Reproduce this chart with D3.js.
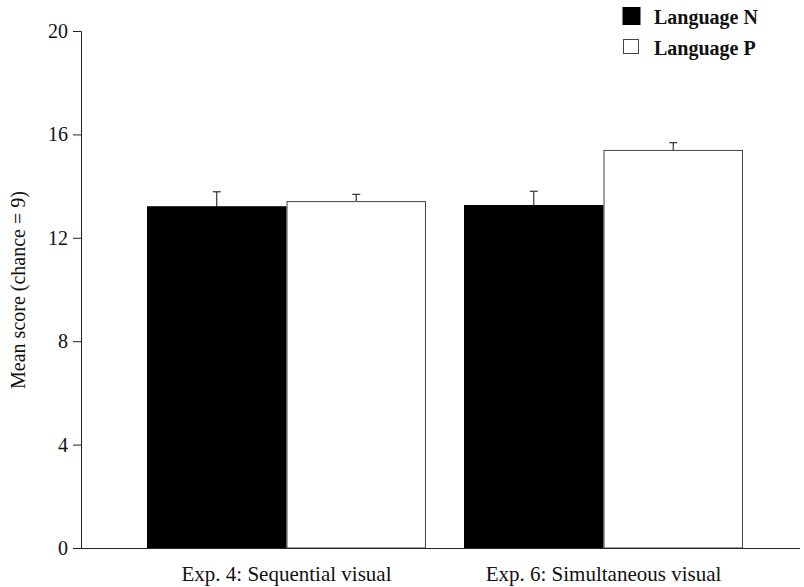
<!DOCTYPE html>
<html><head><meta charset="utf-8">
<script src="https://cdn.jsdelivr.net/npm/d3@7/dist/d3.min.js"></script>
<style>body{margin:0;background:#fff}svg{display:block}text{font-family:"Liberation Serif","Times New Roman",serif}</style>
</head><body><svg id="c" width="804" height="587"></svg>
<script>
const categories = ["Exp. 4: Sequential visual", "Exp. 6: Simultaneous visual"];
const series = ["Language N", "Language P"];
const meanN = [13.2, 13.25];
const meanP = [13.4, 15.38];
const errN = [0.58, 0.55];
const errP = [0.28, 0.3];
const yTicks = [0, 4, 8, 12, 16, 20];
const yLabel = "Mean score (chance = 9)";

const svg = d3.select("#c");
const y = d3.scaleLinear().domain([0, 20]).range([548, 31]);
const x = d3.scaleBand().domain(categories).range([128, 762]).paddingInner(0.12).paddingOuter(0.06);
const xs = d3.scaleBand().domain(series).range([0, x.bandwidth()]).padding(0);
const fills = {"Language N": "#000", "Language P": "#fff"};

const data = [];
categories.forEach((c, i) => {
  data.push({cat: c, s: series[0], v: meanN[i], e: errN[i]});
  data.push({cat: c, s: series[1], v: meanP[i], e: errP[i]});
});

const eb = svg.append("g").attr("stroke", "#333").attr("stroke-width", 1.2);
data.forEach(d => {
  const cx = x(d.cat) + xs(d.s) + xs.bandwidth() / 2;
  eb.append("line").attr("x1", cx).attr("x2", cx).attr("y1", y(d.v)).attr("y2", y(d.v + d.e));
  eb.append("line").attr("x1", cx - 4).attr("x2", cx + 4).attr("y1", y(d.v + d.e)).attr("y2", y(d.v + d.e));
});

svg.append("g").selectAll("rect").data(data).join("rect")
  .attr("x", d => x(d.cat) + xs(d.s) + 0.5)
  .attr("y", d => y(d.v))
  .attr("width", xs.bandwidth() - 1)
  .attr("height", d => y(0) - y(d.v))
  .attr("fill", d => fills[d.s])
  .attr("stroke", d => d.s === series[0] ? "#000" : "#444")
  .attr("stroke-width", 1);

const ya = svg.append("g").attr("transform", "translate(81,0)")
  .call(d3.axisLeft(y).tickValues(yTicks).tickSize(8).tickPadding(5));
ya.select(".domain").attr("stroke", "#222");
ya.selectAll(".tick line").attr("stroke", "#222");
ya.selectAll(".tick text").attr("font-size", 20).attr("fill", "#111");

const xa = svg.append("g").attr("transform", "translate(0,548)")
  .call(d3.axisBottom(x).tickSize(0).tickPadding(18));
xa.select(".domain").attr("d", "M81,0.5H800").attr("stroke", "#222");
xa.selectAll(".tick text").attr("font-size", 21).attr("fill", "#111");

svg.append("text").attr("transform", "translate(25,290) rotate(-90)")
  .attr("text-anchor", "middle").attr("font-size", 20).attr("fill", "#111").text(yLabel);

const lg = svg.append("g");
series.forEach((s, i) => {
  const yy = 7 + i * 31;
  if (i === 0) lg.append("rect").attr("x", 622.5).attr("y", yy).attr("width", 18).attr("height", 18).attr("fill", "#000");
  else lg.append("rect").attr("x", 623.5).attr("y", yy + 1.5).attr("width", 15).attr("height", 14).attr("fill", "#fff").attr("stroke", "#444");
  lg.append("text").attr("x", 654).attr("y", yy + 17).attr("font-size", 20).attr("font-weight", "bold").attr("fill", "#111").text(s);
});
</script></body></html>
